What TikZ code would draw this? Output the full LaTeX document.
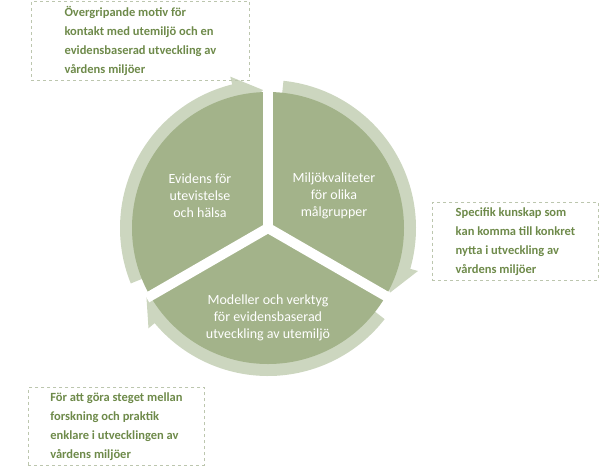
\documentclass[tikz,border=0pt]{standalone}
\usetikzlibrary{calc}
\usepackage{fontspec}
\setmainfont{Carlito}
\definecolor{ringc}{HTML}{CCD6BF}
\definecolor{piec}{HTML}{A3B38A}
\definecolor{boxc}{HTML}{BCC6AE}
\definecolor{boxt}{HTML}{6E8A4A}
\begin{document}
\begin{tikzpicture}[x=1pt,y=-1pt,
  pietext/.style={text=white,font=\fontsize{14}{17}\selectfont,align=center},
  notebox/.style={draw=boxc,dashed,line width=0.9pt,text=boxt,font=\bfseries\fontsize{12.5}{19}\selectfont,align=left,inner sep=5pt,anchor=north west}]
\useasboundingbox (0,0) rectangle (600,467);
\coordinate (c) at (268,228);
\def\ringarrow#1#2{%
 \fill[ringc] ($(c)+(#1:148pt)$) arc[start angle=#1,end angle=#2+12,radius=148pt]
   -- ($(c)+(#2+12:156pt)$) -- ($(c)+(#2:138pt)$) -- ($(c)+(#2+12:120pt)$)
   -- ($(c)+(#2+12:128pt)$) arc[start angle=#2+12,end angle=#1,radius=128pt] -- cycle;}
\ringarrow{202}{92}
\ringarrow{84}{-28}
\ringarrow{322}{208}
\fill[piec] (c) circle[radius=136pt];
\foreach \a in {90,210,330} \draw[white,line width=10pt] (c) -- ++(\a:140pt);
\node[pietext] (l) at (200,196) {Evidens för\\utevistelse\\och hälsa};
\node[pietext] (r) at (334,196) {Miljökvaliteter\\för olika\\målgrupper};
\node[pietext] (b) at (268,318) {Modeller och verktyg\\för evidensbaserad\\utveckling av utemiljö};
\node[notebox,minimum width=218pt,minimum height=75pt] (n1) at (31,1) {Övergripande motiv för\\kontakt med utemiljö och en\\evidensbaserad utveckling av\\vårdens miljöer};
\node[notebox,minimum width=166pt,minimum height=75pt] (n2) at (432,202) {Specifik kunskap som\\kan komma till konkret\\nytta i utveckling av\\vårdens miljöer};
\node[notebox,minimum width=176pt,minimum height=75pt] (n3) at (28,387) {För att göra steget mellan\\forskning och praktik\\enklare i utvecklingen av\\vårdens miljöer};
\end{tikzpicture}
\end{document}
